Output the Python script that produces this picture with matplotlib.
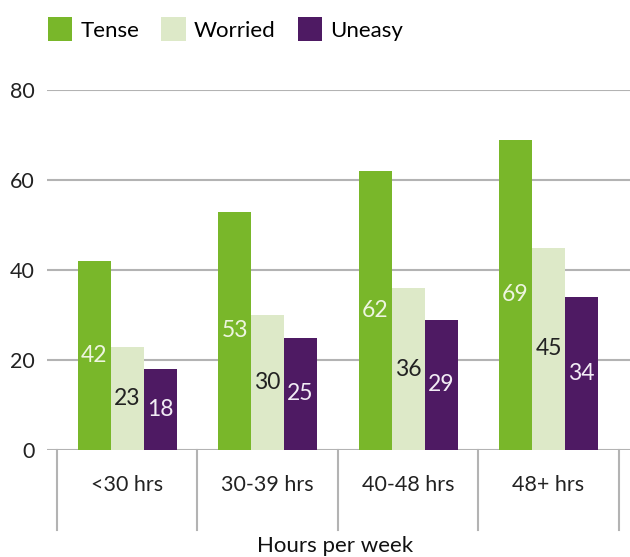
import numpy as np
import matplotlib.pyplot as plt
from matplotlib.patches import Patch

plt.rcParams['font.family'] = ['Lato', 'DejaVu Sans']

# veriler
categories = ["<30 hrs", "30-39 hrs", "40-48 hrs", "48+ hrs"]
series = ["Tense", "Worried", "Uneasy"]
tense = [42, 53, 62, 69]
worried = [23, 30, 36, 45]
uneasy = [18, 25, 29, 34]
yticks = [0, 20, 40, 60, 80]

colors = ["#79b72a", "#dde9c8", "#4e1a63"]
label_colors = ["#eef5e0", "#222222", "#f2ecf5"]

fig = plt.figure(figsize=(6.3, 5.57), dpi=100)
ax = fig.add_axes([47 / 630, 1 - 450 / 557, 583 / 630, 360 / 557])

x = np.arange(len(categories))
w = 0.235
for i, vals in enumerate([tense, worried, uneasy]):
    pos = x + (i - 1) * w
    ax.bar(pos, vals, width=w, color=colors[i], zorder=3)
    for p, v in zip(pos, vals):
        ax.text(p, v / 2, str(v), ha="center", va="center",
                fontsize=16.5, color=label_colors[i], zorder=4)

ax.set_ylim(0, 80)
ax.set_xlim(-0.57, 3.58)
ax.set_yticks(yticks)
ax.set_yticklabels([str(t) for t in yticks], fontsize=15.5, color="#222222")
ax.yaxis.grid(True, color="#b3b3b3", linewidth=1.5, zorder=0)
ax.tick_params(axis="y", length=0, pad=9)
for s in ax.spines.values():
    s.set_visible(False)

ax.set_xticks(x)
ax.set_xticklabels(categories, fontsize=15.5, color="#222222")
ax.tick_params(axis="x", length=0, pad=18)

# kategori ayırıcı çizgiler
trans = ax.get_xaxis_transform()
for sx in np.arange(-0.5, len(categories), 1.0):
    ax.plot([sx, sx], [0, -80 / 360], color="#b3b3b3", linewidth=1.5,
            transform=trans, clip_on=False)

fig.text(335 / 630, 1 - 546 / 557, "Hours per week", ha="center", va="center",
         fontsize=16, color="#111111")

handles = [Patch(facecolor=c, label=s) for c, s in zip(colors, series)]
fig.legend(handles=handles, loc="upper left", bbox_to_anchor=(28 / 630, 1.005),
           ncol=3, frameon=False, fontsize=16, handlelength=1.1, handleheight=1.3,
           handletextpad=0.35, columnspacing=1.0)

fig.savefig("out.png", dpi=100)
